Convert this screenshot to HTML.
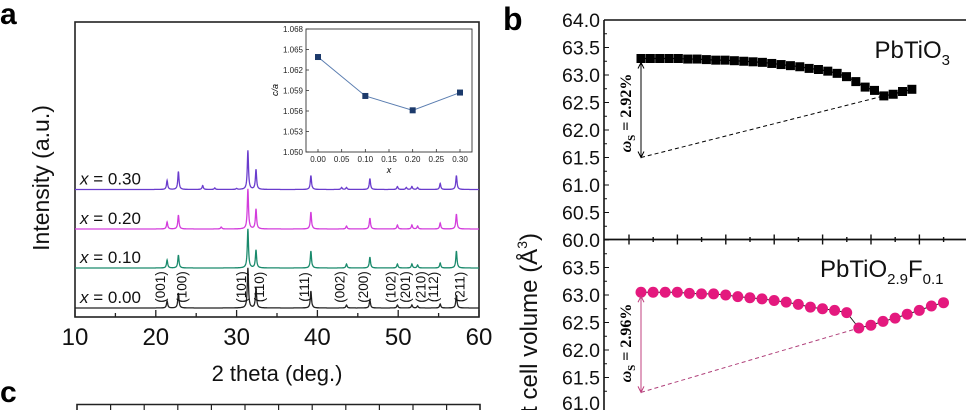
<!DOCTYPE html>
<html><head><meta charset="utf-8"><style>
html,body{margin:0;padding:0;background:#fff;width:966px;height:410px;overflow:hidden}
svg{display:block;font-family:"Liberation Sans",sans-serif;overflow:hidden}
</style></head><body>
<svg id="fig" width="966" height="410" viewBox="0 0 966 410"></svg>
<script>
// ---------- Panel a data ----------
const peakPos   = [21.4,22.8,31.4,32.4,39.2,43.6,46.5,49.9,51.7,52.4,55.2,57.2];
const hklLabels = ["(001)","(100)","(101)","(110)","(111)","(002)","(200)","(102)","(201)","(210)","(112)","(211)"];
const h000 = [7,15,40,20,17,3,8,3,3,2,4,13];
const h010 = [8,13,39,18,17,4,11,4,4,3,5,17];
const h020 = [7,14,40,20,17,3,11,4,4,3,6,15];
const h030 = [9,18,39,20,14,2,11,3,3,2,6,14];
const extraPos020 = [28.1];
const extraH020 = [2];
const extraPos030 = [25.8,27.3,30.0,43.0,51.0];
const extraH030 = [4,1.5,1,2,2];
const seriesLabels = ["x = 0.00","x = 0.10","x = 0.20","x = 0.30"];
const xTicksA = [10,20,30,40,50,60];
// inset
const insetX = [0,0.1,0.2,0.3];
const insetY = [1.0639,1.0582,1.0561,1.0587];
const insetYTicks = ["1.050","1.053","1.056","1.059","1.062","1.065","1.068"];
const insetXTicks = ["0.00","0.05","0.10","0.15","0.20","0.25","0.30"];
// ---------- Panel b data ----------
const vTop = [63.3,63.3,63.3,63.3,63.3,63.29,63.29,63.28,63.27,63.27,63.26,63.25,63.24,63.23,63.21,63.19,63.17,63.15,63.12,63.1,63.07,63.03,62.97,62.88,62.78,62.72,62.62,62.65,62.7,62.74];
const vBot = [63.05,63.05,63.05,63.05,63.03,63.02,63.02,63.0,62.97,62.95,62.93,62.9,62.87,62.83,62.78,62.75,62.72,62.68,62.4,62.45,62.52,62.58,62.65,62.72,62.8,62.86];
const yTicksTop = [60.0,60.5,61.0,61.5,62.0,62.5,63.0,63.5,64.0];
const yTicksBot = [61.0,61.5,62.0,62.5,63.0,63.5];

const NS="http://www.w3.org/2000/svg";
const svg=document.getElementById('fig');
function mk(tag,attrs,parent){const e=document.createElementNS(NS,tag);for(const k in attrs)e.setAttribute(k,attrs[k]);(parent||svg).appendChild(e);return e;}
function txt(s,attrs,parent){const e=mk('text',attrs,parent);e.textContent=s;return e;}

// ===== Panel a =====
const A={x0:75,x1:479,y0:22,y1:317};
const ax=v=>A.x0+(v-10)/50*(A.x1-A.x0);
const pa=mk('g',{});


let t=txt('a',{x:0,y:24,'font-size':30,'font-weight':'bold'},pa);

let r=mk('rect',{x:A.x0,y:A.y0,width:A.x1-A.x0,height:A.y1-A.y0,fill:'none',stroke:'#222','stroke-width':1.6},pa);

for(let v=10;v<=60;v+=5){const major=v%10===0;mk('line',{x1:ax(v),x2:ax(v),y1:A.y1,y2:A.y1-(major?7:4),stroke:'#222','stroke-width':1.3},pa);}
xTicksA.forEach(v=>{const e=txt(String(v),{x:ax(v),y:345,'font-size':24,'text-anchor':'middle',fill:'#111'},pa);
});
t=txt('2 theta (deg.)',{x:277,y:381,'font-size':22,'text-anchor':'middle',fill:'#111'},pa);

t=txt('Intensity (a.u.)',{x:0,y:0,'font-size':23,'text-anchor':'middle',fill:'#111',transform:'translate(49,178) rotate(-90)'},pa);


const baselines=[308,268,229,189.5];
const colors=['#222','#1a8a6c','#d33ddc','#6a3ccd'];
const heights=[h000,h010,h020,h030];
const extras=[[[],[]],[[],[]],[extraPos020,extraH020],[extraPos030,extraH030]];
const names=['pattern-x000','pattern-x010','pattern-x020','pattern-x030'];
for(let s=0;s<4;s++){
  const pos=peakPos.concat(extras[s][0]);const hh=heights[s].concat(extras[s][1]);
  let d='';
  for(let xv=10;xv<=60.0001;xv+=0.025){
    let y=0;for(let i=0;i<pos.length;i++){const w=0.09;const dx=(xv-pos[i])/w;y+=hh[i]/(1+dx*dx);}
    d+=(d?'L':'M')+ax(xv).toFixed(1)+' '+(baselines[s]-y).toFixed(1);
  }
  const p=mk('path',{d:d,fill:'none',stroke:colors[s],'stroke-width':1.3},pa);
  
  const lb=mk('text',{x:80,y:baselines[s]-5,'font-size':17,fill:'#111'},pa);
  
  const it=mk('tspan',{'font-style':'italic'},lb);it.textContent='x';
  const rest=mk('tspan',{},lb);rest.textContent=seriesLabels[s].slice(1);
}
peakPos.forEach((p,i)=>{
  const left=[0,2,4,5,6,7,8,10].includes(i);
  const e=txt(hklLabels[i],{x:0,y:0,'font-size':13.5,'text-anchor':'middle',fill:'#111',
    transform:`translate(${ax(p)+(left?-2:8)},${287}) rotate(-90)`},pa);
  
});
// inset
const I={x0:306,x1:472,y0:29,y1:152,dx0:318,dx1:460};
const ix=v=>I.dx0+v/0.3*(I.dx1-I.dx0);
const iy=v=>I.y1-(v-1.050)/0.018*(I.y1-I.y0);
const gi=mk('g',{},pa);

mk('rect',{x:I.x0,y:I.y0,width:I.x1-I.x0,height:I.y1-I.y0,fill:'#fff',stroke:'#333','stroke-width':0.9},gi);
insetYTicks.forEach(s=>{const v=parseFloat(s);mk('line',{x1:I.x0,x2:I.x0+3,y1:iy(v),y2:iy(v),stroke:'#333','stroke-width':0.8},gi);
 const e=txt(s,{x:I.x0-3,y:iy(v)+3,'font-size':8,'text-anchor':'end',fill:'#222'},gi);
 });
insetXTicks.forEach(s=>{const v=parseFloat(s);mk('line',{x1:ix(v),x2:ix(v),y1:I.y1,y2:I.y1-3,stroke:'#333','stroke-width':0.8},gi);
 const e=txt(s,{x:ix(v),y:I.y1+10,'font-size':8,'text-anchor':'middle',fill:'#222'},gi);
 });
t=txt('x',{x:389,y:173,'font-size':9,'font-style':'italic','text-anchor':'middle'},gi);

t=txt('c/a',{x:0,y:0,'font-size':9,'font-style':'italic','text-anchor':'middle',transform:'translate(278,90) rotate(-90)'},gi);

let ld='';insetX.forEach((v,i)=>{ld+=(i?'L':'M')+ix(v)+' '+iy(insetY[i]);});
let pl=mk('path',{d:ld,fill:'none',stroke:'#5a7db0','stroke-width':1},gi);

insetX.forEach((v,i)=>{const q=mk('rect',{x:ix(v)-3,y:iy(insetY[i])-3,width:6,height:6,fill:'#1c3a6b'},gi);
 });

// panel c glimpse
t=txt('c',{x:0,y:402,'font-size':30,'font-weight':'bold'});

r=mk('path',{d:'M77 410V404.5H480V410',fill:'none',stroke:'#222','stroke-width':1.6});

for(let i=1;i<12;i++){const x=77+i*33.6;mk('line',{x1:x,x2:x,y1:404,y2:410,stroke:'#222','stroke-width':1.2});}

// ===== Panel b =====
const B={x0:604,base:240,ppu:55,xs:641,stepT:9.34,stepB:12.1};
const yT=v=>B.base-(v-60)*B.ppu;
const yB=v=>295+(63-v)*B.ppu;
const pb=mk('g',{});

t=txt('b',{x:503,y:30,'font-size':32,'font-weight':'bold'},pb);

mk('line',{x1:B.x0,x2:B.x0,y1:20,y2:410,stroke:'#111','stroke-width':1.6},pb);
mk('line',{x1:B.x0,x2:966,y1:20,y2:20,stroke:'#111','stroke-width':1.6},pb);
mk('line',{x1:B.x0,x2:966,y1:239.5,y2:239.5,stroke:'#111','stroke-width':1.8},pb);
for(let i=0;i<14;i++){const x=629+i*24.2;mk('line',{x1:x,x2:x,y1:239.5-(i%2?2.5:5),y2:239.5+(i%2?2.5:5),stroke:'#111','stroke-width':1.4},pb);}
for(let v=60;v<=64;v+=0.25){const maj=Math.abs(v*2-Math.round(v*2))<1e-6;mk('line',{x1:B.x0,x2:B.x0+(maj?5:3),y1:yT(v),y2:yT(v),stroke:'#111','stroke-width':1},pb);}
for(let v=61.25;v<=63.75;v+=0.25){const maj=Math.abs(v*2-Math.round(v*2))<1e-6;mk('line',{x1:B.x0,x2:B.x0+(maj?5:3),y1:yB(v),y2:yB(v),stroke:'#111','stroke-width':1},pb);}
yTicksTop.forEach(v=>{const e=txt(v.toFixed(1),{x:600,y:yT(v)+7,'font-size':19.5,'text-anchor':'end',fill:'#111'},pb);
 });
yTicksBot.forEach(v=>{const e=txt(v.toFixed(1),{x:600,y:Math.min(yB(v)+7,410),'font-size':19.5,'text-anchor':'end',fill:'#111'},pb);
 });
t=mk('text',{x:0,y:0,'font-size':24,'text-anchor':'end',fill:'#111',transform:'translate(537,233) rotate(-90)'},pb);

t.appendChild(document.createTextNode('t cell volume (Å'));
let sup=mk('tspan',{'font-size':14,dy:-10},t);sup.textContent='3';
let cl=mk('tspan',{dy:10},t);cl.textContent=')';
// top series
let dT='';vTop.forEach((v,i)=>{dT+=(i?'L':'M')+(B.xs+i*B.stepT)+' '+yT(v);});
pl=mk('path',{d:dT,fill:'none',stroke:'#000','stroke-width':1.2},pb);

vTop.forEach((v,i)=>{const q=mk('rect',{x:B.xs+i*B.stepT-4.5,y:yT(v)-4.5,width:9,height:9,fill:'#000'},pb);
 });
const minTi=vTop.indexOf(Math.min(...vTop));
mk('line',{x1:B.xs,y1:yT(61.5),x2:B.xs+minTi*B.stepT,y2:yT(vTop[minTi]),stroke:'#000','stroke-width':1,'stroke-dasharray':'4,3'},pb);
mk('line',{x1:B.xs,y1:yT(vTop[0])+5,x2:B.xs,y2:yT(61.5),stroke:'#000','stroke-width':1},pb);
mk('path',{d:`M${B.xs-3} ${yT(vTop[0])+10}L${B.xs} ${yT(vTop[0])+4}L${B.xs+3} ${yT(vTop[0])+10}M${B.xs-3} ${yT(61.5)-6}L${B.xs} ${yT(61.5)}L${B.xs+3} ${yT(61.5)-6}`,fill:'none',stroke:'#000','stroke-width':1},pb);
function omega(label,cx,cy,name){
  const e=mk('text',{x:0,y:0,'font-size':16,'font-family':'Liberation Serif,serif','font-weight':'bold','text-anchor':'middle',transform:`translate(${cx},${cy}) rotate(-90)`},pb);
  
  const w=mk('tspan',{'font-style':'italic'},e);w.textContent='ω';
  const s=mk('tspan',{'font-size':11,dy:4},e);s.textContent='S';
  const rest=mk('tspan',{dy:-4},e);rest.textContent=' = '+label;
}
omega('2.92%',631,113,'annotation-2-92');
t=mk('text',{x:950,y:58,'font-size':24,'text-anchor':'end',fill:'#111'},pb);

t.appendChild(document.createTextNode('PbTiO'));
let sb=mk('tspan',{'font-size':15,dy:7},t);sb.textContent='3';
// bottom series
const pink='#e4197e';
let dB='';vBot.forEach((v,i)=>{dB+=(i?'L':'M')+(B.xs+i*B.stepB)+' '+yB(v);});
pl=mk('path',{d:dB,fill:'none',stroke:'#222','stroke-width':1},pb);

vBot.forEach((v,i)=>{const c=mk('circle',{cx:B.xs+i*B.stepB,cy:yB(v),r:5.5,fill:pink},pb);
 });
const minBi=vBot.indexOf(Math.min(...vBot));
mk('line',{x1:B.xs,y1:yB(61.23),x2:B.xs+minBi*B.stepB,y2:yB(vBot[minBi]),stroke:'#b0407a','stroke-width':1,'stroke-dasharray':'4,3'},pb);
mk('line',{x1:B.xs,y1:yB(vBot[0])+5,x2:B.xs,y2:yB(61.23),stroke:'#c0407f','stroke-width':1},pb);
mk('path',{d:`M${B.xs-3} ${yB(vBot[0])+10}L${B.xs} ${yB(vBot[0])+4}L${B.xs+3} ${yB(vBot[0])+10}M${B.xs-3} ${yB(61.23)-6}L${B.xs} ${yB(61.23)}L${B.xs+3} ${yB(61.23)-6}`,fill:'none',stroke:'#c0407f','stroke-width':1},pb);
omega('2.96%',631,343,'annotation-2-96');
t=mk('text',{x:820,y:277,'font-size':24,fill:'#111'},pb);

t.appendChild(document.createTextNode('PbTiO'));
sb=mk('tspan',{'font-size':15,dy:7},t);sb.textContent='2.9';
let f=mk('tspan',{dy:-7},t);f.textContent='F';
sb=mk('tspan',{'font-size':15,dy:7},t);sb.textContent='0.1';
</script>
</body></html>
